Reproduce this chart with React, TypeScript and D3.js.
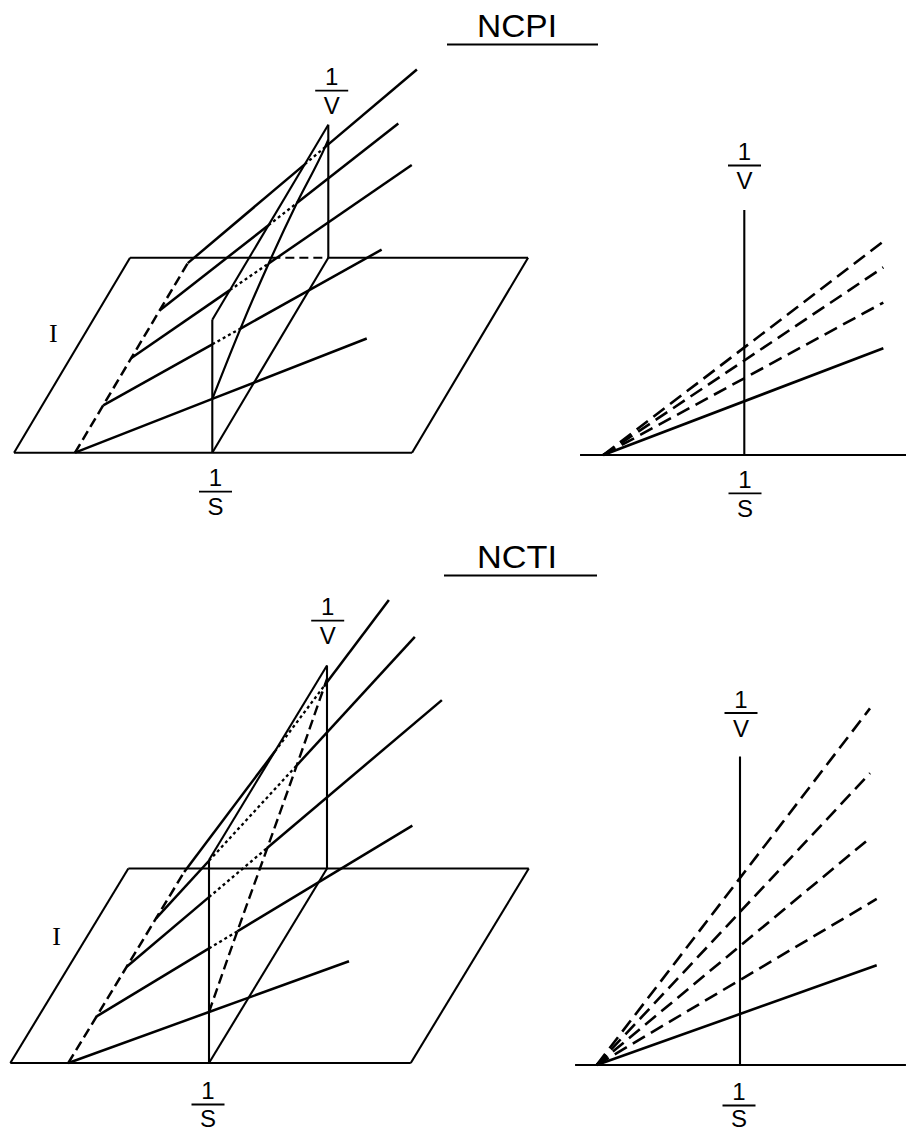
import React from "react";
import * as d3 from "d3";

// Every line shares the same 1/S intercept (-1/Km), in units of 1/Km.
const X_INTERCEPT = -1;

// ---- NCPI ----
// position of each inhibitor level along the I axis (0 = front edge, 1 = back edge)
const ncpiDepths = [0, 0.243, 0.486, 0.729, 0.972];
// 1/V at 1/S = 0 for each inhibitor level
const ncpiIntercepts = [1.075, 1.535, 1.89, 2.15, 2.32];
// replot value where it meets the 1/V axis at the back
const ncpiBackIntercept = 2.36;
// 1/S at which each line stops in the perspective sketch
const ncpiLineEnds3d = [1.125, 1.028, 1.042, 0.739, 0.669];
// 1/S at which each line stops in the flat plot (first four levels)
const ncpiLineEnds2d = [0.986, 0.986, 0.986, 0.986];
const ncpiPlaneHeight = 2.66;
const ncpiFloorRange = [-1.444, 1.455];
const ncpiAxisRange2d = [-1.165, 1.147];
const ncpiAxisHeight2d = 4.9;

// ---- NCTI ----
const nctiDepths = [0, 0.24, 0.495, 0.744, 0.982];
const nctiIntercepts = [1.02, 1.7, 2.38, 3.06, 3.74];
const nctiBackIntercept = 3.79;
const nctiLineEnds3d = [0.995, 1.244, 1.24, 0.839, 0.455];
const nctiLineEnds2d = [0.954, 0.954, 0.907, 0.907, 0.907];
const nctiPlaneHeight = 4.06;
const nctiFloorRange = [-1.412, 1.434];
const nctiAxisRange2d = [-1.151, 1.158];
const nctiAxisHeight2d = 6.17;

const SANS = "'Liberation Sans', Arial, Helvetica, sans-serif";
const SERIF = "'Liberation Serif', 'Times New Roman', serif";
const INK = "#000";

type Pt = [number, number];

function intersect(a: Pt, b: Pt, c: Pt, d: Pt): { t: number; p: Pt } | null {
  const rx = b[0] - a[0], ry = b[1] - a[1];
  const sx = d[0] - c[0], sy = d[1] - c[1];
  const den = rx * sy - ry * sx;
  if (Math.abs(den) < 1e-9) return null;
  const t = ((c[0] - a[0]) * sy - (c[1] - a[1]) * sx) / den;
  const u = ((c[0] - a[0]) * ry - (c[1] - a[1]) * rx) / den;
  if (t < -1e-6 || t > 1 + 1e-6 || u < -1e-6 || u > 1 + 1e-6) return null;
  return { t, p: [a[0] + t * rx, a[1] + t * ry] };
}

const seg = d3.line<Pt>();

function Frac({ x, barY, top, bottom, gap = 23.5 }: { x: number; barY: number; top: string; bottom: string; gap?: number }) {
  return (
    <g fontFamily={SANS} fontSize={24} textAnchor="middle" fill={INK}>
      <text x={x} y={barY - 5.5}>{top}</text>
      <line x1={x - 16.5} x2={x + 16.5} y1={barY} y2={barY} stroke={INK} strokeWidth={1.8} />
      <text x={x} y={barY + gap}>{bottom}</text>
    </g>
  );
}

type Geom = { ox: number; oy: number; pxS: number; pxV: number; depthX: number; depthY: number };

function Panel3D(props: {
  geom: Geom;
  depths: number[];
  intercepts: number[];
  backIntercept: number;
  ends: number[];
  planeHeight: number;
  floorRange: number[];
  replotDashed: boolean;
  backEdgeHidden: boolean;
}) {
  const { geom, depths, intercepts, backIntercept, ends, planeHeight, floorRange, replotDashed, backEdgeHidden } = props;
  const sx = d3.scaleLinear().domain([0, 1]).range([0, geom.pxS]);
  const vy = d3.scaleLinear().domain([0, 1]).range([0, geom.pxV]);
  const ix = d3.scaleLinear().domain([0, 1]).range([0, geom.depthX]);
  const iy = d3.scaleLinear().domain([0, 1]).range([0, geom.depthY]);
  const P = (s: number, d: number, v: number): Pt => [geom.ox + sx(s) + ix(d), geom.oy + iy(d) - vy(v)];

  const [f0, f1] = floorRange;
  const frame = { stroke: INK, strokeWidth: 2.1, fill: "none" };
  const mark = { stroke: INK, strokeWidth: 2.5, fill: "none" };

  // floor (1/V = 0)
  const FL = P(f0, 0, 0), FR = P(f1, 0, 0), BL = P(f0, 1, 0), BR = P(f1, 1, 0);
  // the 1/S = 0 plane
  const F0 = P(0, 0, 0), F1 = P(0, 0, planeHeight), B1 = P(0, 1, planeHeight), B0 = P(0, 1, 0);

  // replot of intercepts against I inside the 1/S = 0 plane
  const replotPts: Pt[] = depths.map((d, k) => P(0, d, intercepts[k]));
  replotPts.push(P(0, 1, backIntercept));
  const replot = d3.line<Pt>().curve(d3.curveMonotoneX)(replotPts) || "";

  // back edge of the floor: the part behind the replot is dashed
  const backEdge: JSX.Element[] = [];
  if (backEdgeHidden) {
    let crossX = B0[0];
    for (let i = 0; i < replotPts.length - 1; i++) {
      const a = replotPts[i], b = replotPts[i + 1];
      if ((a[1] - B0[1]) * (b[1] - B0[1]) <= 0 && a[1] !== b[1]) {
        crossX = a[0] + ((B0[1] - a[1]) / (b[1] - a[1])) * (b[0] - a[0]);
        break;
      }
    }
    backEdge.push(<path key="b1" d={seg([BL, [crossX, B0[1]]]) || ""} {...frame} />);
    backEdge.push(<path key="b2" d={seg([[crossX, B0[1]], B0]) || ""} {...frame} strokeDasharray="9 5" />);
    backEdge.push(<path key="b3" d={seg([B0, BR]) || ""} {...frame} />);
  } else {
    backEdge.push(<path key="b" d={seg([BL, BR]) || ""} {...frame} />);
  }

  // the double-reciprocal lines, one per inhibitor level
  const lines = depths.map((d, k) => {
    const b = intercepts[k];
    const slope = b / (0 - X_INTERCEPT);
    const S = P(X_INTERCEPT, d, 0);
    const C = P(0, d, b);
    const e = ends[k];
    const E = P(e, d, slope * (e - X_INTERCEPT));
    // where the line passes behind the 1/S = 0 plane
    const hits = [intersect(S, C, F0, F1), intersect(S, C, F1, B1)].filter(Boolean) as { t: number; p: Pt }[];
    hits.sort((a, b2) => a.t - b2.t);
    const entry = hits.length ? hits[0].p : C;
    const hidden = hits.length && hits[0].t < 0.999;
    return (
      <g key={k}>
        <path d={seg([S, entry]) || ""} {...mark} />
        {hidden ? <path d={seg([entry, C]) || ""} {...mark} strokeWidth={2.3} strokeDasharray="3 3" /> : null}
        <path d={seg([C, E]) || ""} {...mark} />
      </g>
    );
  });

  const lastDepth = depths[depths.length - 1];

  return (
    <g>
      {/* floor */}
      <path d={seg([FL, FR]) || ""} {...frame} />
      <path d={seg([FL, BL]) || ""} {...frame} />
      <path d={seg([FR, BR]) || ""} {...frame} />
      {backEdge}
      {/* 1/S = 0 plane */}
      <path d={seg([F0, F1]) || ""} {...frame} />
      <path d={seg([F1, B1]) || ""} {...frame} />
      <path d={seg([B0, B1]) || ""} {...frame} />
      <path d={seg([F0, B0]) || ""} {...frame} />
      {/* common x-intercept along I */}
      <path d={seg([P(X_INTERCEPT, 0, 0), P(X_INTERCEPT, lastDepth, 0)]) || ""} {...mark} strokeDasharray="10 5" />
      {/* intercept replot */}
      <path d={replot} {...mark} strokeWidth={replotDashed ? 2.4 : 2.2} strokeDasharray={replotDashed ? "10 5" : undefined} />
      {lines}
    </g>
  );
}

function Panel2D(props: {
  ox: number;
  oy: number;
  pxS: number;
  pxV: number;
  intercepts: number[];
  ends: number[];
  axisRange: number[];
  axisHeight: number;
}) {
  const { ox, oy, pxS, pxV, intercepts, ends, axisRange, axisHeight } = props;
  const x = d3.scaleLinear().domain([0, 1]).range([ox, ox + pxS]);
  const y = d3.scaleLinear().domain([0, 1]).range([oy, oy - pxV]);
  const line = d3.line<[number, number]>().x((p) => x(p[0])).y((p) => y(p[1]));
  return (
    <g fill="none" stroke={INK}>
      <path d={line([[axisRange[0], 0], [axisRange[1], 0]]) || ""} strokeWidth={2.1} />
      <path d={line([[0, 0], [0, axisHeight]]) || ""} strokeWidth={2.1} />
      {ends.map((e, k) => {
        const b = intercepts[k];
        const slope = b / (0 - X_INTERCEPT);
        return (
          <path
            key={k}
            d={line([[X_INTERCEPT, 0], [e, slope * (e - X_INTERCEPT)]]) || ""}
            strokeWidth={2.6}
            strokeDasharray={k === 0 ? undefined : "14 7"}
          />
        );
      })}
    </g>
  );
}

function Title({ x, y, text, u0, u1 }: { x: number; y: number; text: string; u0: number; u1: number }) {
  return (
    <g>
      <text x={x} y={y} fontFamily={SANS} fontSize={30.5} textAnchor="middle" textLength={80} lengthAdjust="spacingAndGlyphs" fill={INK}>
        {text}
      </text>
      <line x1={u0} x2={u1} y1={y + 7.5} y2={y + 7.5} stroke={INK} strokeWidth={1.8} />
    </g>
  );
}

export default function App() {
  const ncpiGeom: Geom = { ox: 212.3, oy: 452.7, pxS: 137.3, pxV: 50, depthX: 116, depthY: -195 };
  const nctiGeom: Geom = { ox: 209, oy: 1063, pxS: 140.7, pxV: 50, depthX: 118, depthY: -194.5 };
  return (
    <svg
      width={906}
      height={1132}
      viewBox="0 0 906 1132"
      style={{ position: "absolute", left: 0, top: 0, display: "block", background: "#fff" }}
    >
      <rect x={0} y={0} width={906} height={1132} fill="#fff" />

      <Title x={517} y={37} text="NCPI" u0={447} u1={598} />
      <Panel3D
        geom={ncpiGeom}
        depths={ncpiDepths}
        intercepts={ncpiIntercepts}
        backIntercept={ncpiBackIntercept}
        ends={ncpiLineEnds3d}
        planeHeight={ncpiPlaneHeight}
        floorRange={ncpiFloorRange}
        replotDashed={false}
        backEdgeHidden={true}
      />
      <Frac x={331.7} barY={90.7} top="1" bottom="V" />
      <Frac x={215.5} barY={491.7} top="1" bottom="S" />
      <text x={53.3} y={342} fontFamily={SERIF} fontSize={26} textAnchor="middle">I</text>

      <Panel2D
        ox={744.3}
        oy={455}
        pxS={141}
        pxV={50}
        intercepts={ncpiIntercepts}
        ends={ncpiLineEnds2d}
        axisRange={ncpiAxisRange2d}
        axisHeight={ncpiAxisHeight2d}
      />
      <Frac x={744.5} barY={165.5} top="1" bottom="V" />
      <Frac x={745} barY={493.3} top="1" bottom="S" />

      <Title x={517} y={568} text="NCTI" u0={444} u1={597} />
      <Panel3D
        geom={nctiGeom}
        depths={nctiDepths}
        intercepts={nctiIntercepts}
        backIntercept={nctiBackIntercept}
        ends={nctiLineEnds3d}
        planeHeight={nctiPlaneHeight}
        floorRange={nctiFloorRange}
        replotDashed={true}
        backEdgeHidden={false}
      />
      <Frac x={327.7} barY={620.7} top="1" bottom="V" />
      <Frac x={208} barY={1104.5} top="1" bottom="S" gap={22.5} />
      <text x={56.7} y={945} fontFamily={SERIF} fontSize={26} textAnchor="middle">I</text>

      <Panel2D
        ox={740}
        oy={1065}
        pxS={143.3}
        pxV={50}
        intercepts={nctiIntercepts}
        ends={nctiLineEnds2d}
        axisRange={nctiAxisRange2d}
        axisHeight={nctiAxisHeight2d}
      />
      <Frac x={741} barY={713} top="1" bottom="V" />
      <Frac x={739} barY={1105.5} top="1" bottom="S" gap={21.5} />
    </svg>
  );
}
